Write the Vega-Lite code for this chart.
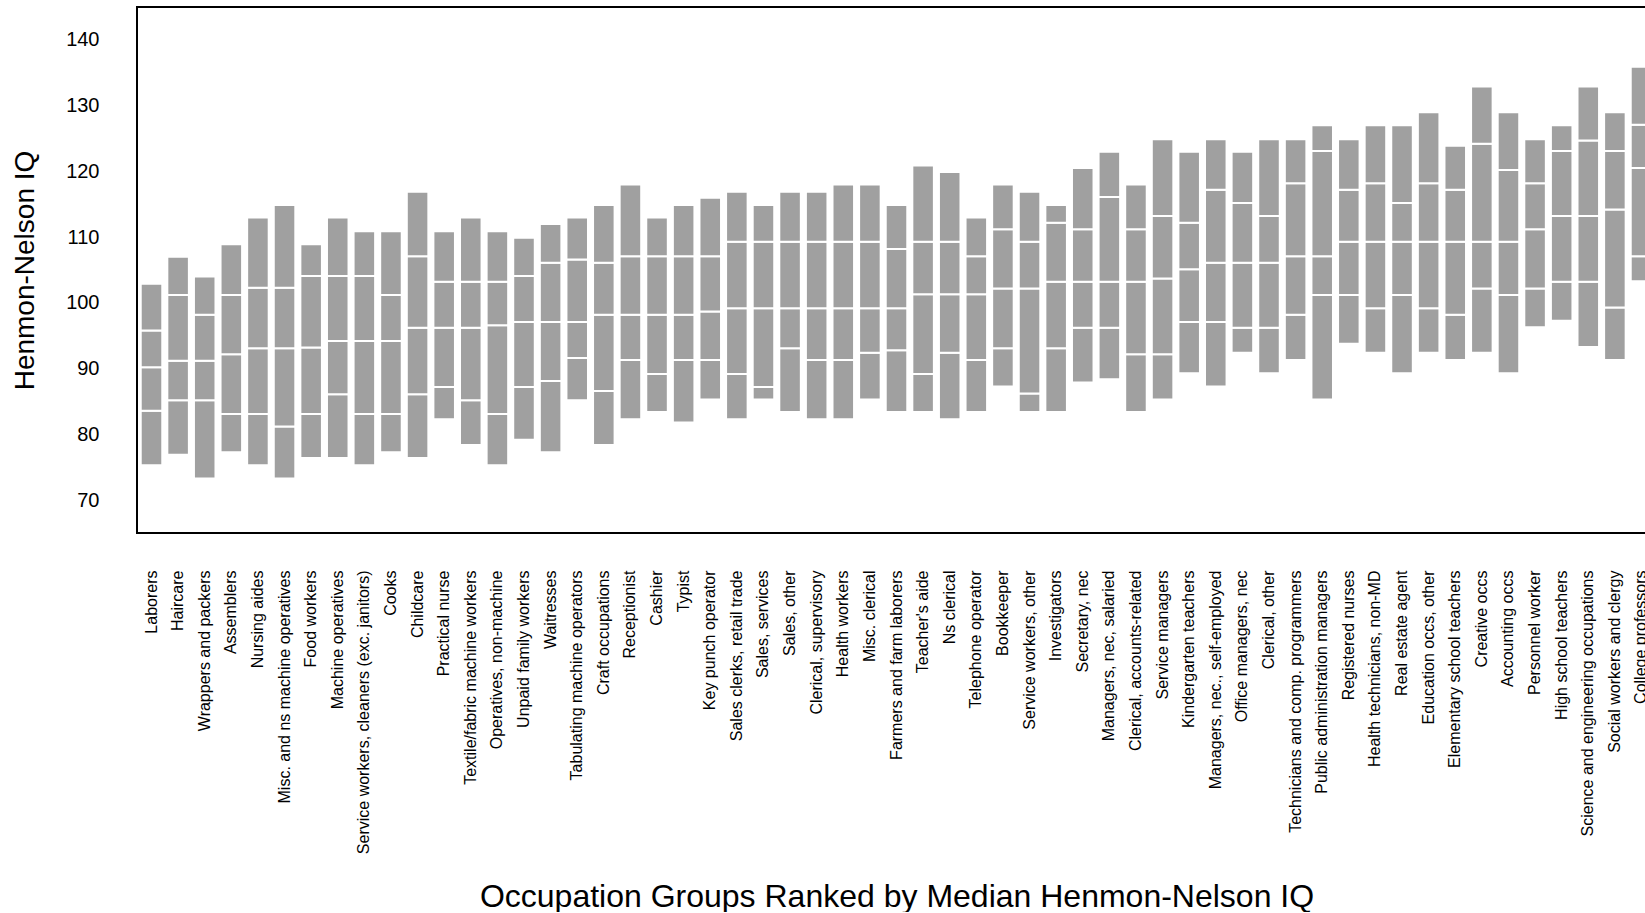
{
  "$schema": "https://vega.github.io/schema/vega-lite/v6.json",
  "usermeta": {"embedOptions": {"actions": false}},
  "width": 1519,
  "height": 526,
  "padding": {"left": 11, "top": 7, "right": 0, "bottom": 0},
  "background": "white",
  "config": {
    "font": "Liberation Sans",
    "view": {"stroke": "black", "strokeWidth": 2},
    "axis": {"labelColor": "black", "titleColor": "black", "titleFontWeight": "normal", "grid": false, "ticks": false, "domain": false}
  },
  "data": {
    "values": [
      {"occ": "Laborers", "p10": 75.3, "p25": 83.6, "p50": 90.2, "p75": 95.8, "p90": 102.9},
      {"occ": "Haircare", "p10": 76.9, "p25": 85.2, "p50": 91.2, "p75": 101.2, "p90": 107.0},
      {"occ": "Wrappers and packers", "p10": 73.3, "p25": 85.2, "p50": 91.2, "p75": 98.2, "p90": 104.0},
      {"occ": "Assemblers", "p10": 77.3, "p25": 83.1, "p50": 92.2, "p75": 101.2, "p90": 108.9},
      {"occ": "Nursing aides", "p10": 75.3, "p25": 83.1, "p50": 93.1, "p75": 102.3, "p90": 113.0},
      {"occ": "Misc. and ns machine operatives", "p10": 73.3, "p25": 81.2, "p50": 93.1, "p75": 102.3, "p90": 114.9},
      {"occ": "Food workers", "p10": 76.4, "p25": 83.1, "p50": 93.2, "p75": 104.1, "p90": 108.9},
      {"occ": "Machine operatives", "p10": 76.4, "p25": 86.1, "p50": 94.2, "p75": 104.1, "p90": 113.0},
      {"occ": "Service workers, cleaners (exc. janitors)", "p10": 75.3, "p25": 83.1, "p50": 94.2, "p75": 104.1, "p90": 110.9},
      {"occ": "Cooks", "p10": 77.3, "p25": 83.1, "p50": 94.2, "p75": 101.2, "p90": 110.9},
      {"occ": "Childcare", "p10": 76.4, "p25": 86.1, "p50": 96.2, "p75": 107.1, "p90": 116.9},
      {"occ": "Practical nurse", "p10": 82.3, "p25": 87.2, "p50": 96.2, "p75": 103.2, "p90": 110.9},
      {"occ": "Textile/fabric machine workers", "p10": 78.4, "p25": 85.2, "p50": 96.2, "p75": 103.2, "p90": 113.0},
      {"occ": "Operatives, non-machine", "p10": 75.3, "p25": 83.1, "p50": 96.6, "p75": 103.2, "p90": 110.9},
      {"occ": "Unpaid family workers", "p10": 79.2, "p25": 87.2, "p50": 97.1, "p75": 104.1, "p90": 109.9},
      {"occ": "Waitresses", "p10": 77.3, "p25": 88.1, "p50": 97.1, "p75": 106.1, "p90": 112.0},
      {"occ": "Tabulating machine operators", "p10": 85.2, "p25": 91.6, "p50": 97.1, "p75": 106.6, "p90": 113.0},
      {"occ": "Craft occupations", "p10": 78.4, "p25": 86.6, "p50": 98.2, "p75": 106.1, "p90": 114.9},
      {"occ": "Receptionist", "p10": 82.3, "p25": 91.3, "p50": 98.2, "p75": 107.1, "p90": 118.0},
      {"occ": "Cashier", "p10": 83.4, "p25": 89.2, "p50": 98.2, "p75": 107.1, "p90": 113.0},
      {"occ": "Typist", "p10": 81.8, "p25": 91.3, "p50": 98.2, "p75": 107.1, "p90": 114.9},
      {"occ": "Key punch operator", "p10": 85.3, "p25": 91.3, "p50": 98.7, "p75": 107.1, "p90": 116.0},
      {"occ": "Sales clerks, retail trade", "p10": 82.3, "p25": 89.2, "p50": 99.2, "p75": 109.3, "p90": 116.9},
      {"occ": "Sales, services", "p10": 85.3, "p25": 87.2, "p50": 99.2, "p75": 109.3, "p90": 114.9},
      {"occ": "Sales, other", "p10": 83.4, "p25": 93.1, "p50": 99.2, "p75": 109.3, "p90": 116.9},
      {"occ": "Clerical, supervisory", "p10": 82.3, "p25": 91.3, "p50": 99.2, "p75": 109.3, "p90": 116.9},
      {"occ": "Health workers", "p10": 82.3, "p25": 91.3, "p50": 99.2, "p75": 109.3, "p90": 118.0},
      {"occ": "Misc. clerical", "p10": 85.3, "p25": 92.4, "p50": 99.2, "p75": 109.3, "p90": 118.0},
      {"occ": "Farmers and farm laborers", "p10": 83.4, "p25": 92.8, "p50": 99.2, "p75": 108.2, "p90": 114.9},
      {"occ": "Teacher's aide", "p10": 83.4, "p25": 89.2, "p50": 101.3, "p75": 109.3, "p90": 120.9},
      {"occ": "Ns clerical", "p10": 82.3, "p25": 92.4, "p50": 101.3, "p75": 109.3, "p90": 119.9},
      {"occ": "Telephone operator", "p10": 83.4, "p25": 91.3, "p50": 101.3, "p75": 107.1, "p90": 113.0},
      {"occ": "Bookkeeper", "p10": 87.3, "p25": 93.1, "p50": 102.2, "p75": 111.2, "p90": 118.0},
      {"occ": "Service workers, other", "p10": 83.4, "p25": 86.2, "p50": 102.2, "p75": 109.3, "p90": 116.9},
      {"occ": "Investigators", "p10": 83.4, "p25": 93.1, "p50": 103.2, "p75": 112.2, "p90": 114.9},
      {"occ": "Secretary, nec", "p10": 87.9, "p25": 96.2, "p50": 103.2, "p75": 111.2, "p90": 120.5},
      {"occ": "Managers, nec, salaried", "p10": 88.4, "p25": 96.2, "p50": 103.2, "p75": 116.1, "p90": 123.0},
      {"occ": "Clerical, accounts-related", "p10": 83.4, "p25": 92.2, "p50": 103.2, "p75": 111.2, "p90": 118.0},
      {"occ": "Service managers", "p10": 85.3, "p25": 92.2, "p50": 103.7, "p75": 113.2, "p90": 124.9},
      {"occ": "Kindergarten teachers", "p10": 89.3, "p25": 97.1, "p50": 105.1, "p75": 112.2, "p90": 123.0},
      {"occ": "Managers, nec., self-employed", "p10": 87.3, "p25": 97.1, "p50": 106.1, "p75": 117.2, "p90": 124.9},
      {"occ": "Office managers, nec", "p10": 92.4, "p25": 96.2, "p50": 106.1, "p75": 115.2, "p90": 123.0},
      {"occ": "Clerical, other", "p10": 89.3, "p25": 96.2, "p50": 106.1, "p75": 113.2, "p90": 124.9},
      {"occ": "Technicians and comp. programmers", "p10": 91.3, "p25": 98.2, "p50": 107.1, "p75": 118.2, "p90": 124.9},
      {"occ": "Public administration managers", "p10": 85.3, "p25": 101.2, "p50": 107.1, "p75": 123.1, "p90": 127.0},
      {"occ": "Registered nurses", "p10": 93.8, "p25": 101.2, "p50": 109.3, "p75": 117.2, "p90": 124.9},
      {"occ": "Health technicians, non-MD", "p10": 92.4, "p25": 99.2, "p50": 109.3, "p75": 118.2, "p90": 127.0},
      {"occ": "Real estate agent", "p10": 89.3, "p25": 101.2, "p50": 109.3, "p75": 115.2, "p90": 127.0},
      {"occ": "Education occs, other", "p10": 92.4, "p25": 99.2, "p50": 109.3, "p75": 118.2, "p90": 129.0},
      {"occ": "Elementary school teachers", "p10": 91.3, "p25": 98.2, "p50": 109.3, "p75": 117.2, "p90": 123.9},
      {"occ": "Creative occs", "p10": 92.4, "p25": 102.2, "p50": 109.3, "p75": 124.2, "p90": 132.9},
      {"occ": "Accounting occs", "p10": 89.3, "p25": 101.2, "p50": 109.3, "p75": 120.2, "p90": 129.0},
      {"occ": "Personnel worker", "p10": 96.3, "p25": 102.2, "p50": 111.2, "p75": 118.2, "p90": 124.9},
      {"occ": "High school teachers", "p10": 97.3, "p25": 103.2, "p50": 113.2, "p75": 123.1, "p90": 127.0},
      {"occ": "Science and engineering occupations", "p10": 93.3, "p25": 103.2, "p50": 113.2, "p75": 124.7, "p90": 132.9},
      {"occ": "Social workers and clergy", "p10": 91.3, "p25": 99.3, "p50": 114.2, "p75": 123.1, "p90": 129.0},
      {"occ": "College professors", "p10": 103.3, "p25": 107.1, "p50": 120.5, "p75": 127.1, "p90": 135.9}
    ]
  },
  "encoding": {
    "x": {
      "field": "occ",
      "type": "nominal",
      "sort": null,
      "scale": {"paddingInner": 0.19, "paddingOuter": 0.14},
      "axis": {
        "title": "Occupation Groups Ranked by Median Henmon-Nelson IQ",
        "labelAngle": -90,
        "labelFontSize": 16,
        "labelPadding": 37,
        "labelLimit": 400,
        "titleFontSize": 32,
        "titleBaseline": "alphabetic",
        "titleY": 373
      }
    }
  },
  "layer": [
    {
      "mark": {"type": "bar", "color": "#A0A0A0", "stroke": "white", "strokeWidth": 2},
      "encoding": {
        "y": {
          "field": "p10",
          "type": "quantitative",
          "scale": {"domain": [65, 145], "nice": false, "zero": false},
          "axis": {"title": "Henmon-Nelson IQ", "values": [70, 80, 90, 100, 110, 120, 130, 140], "labelFontSize": 20, "labelPadding": 38, "titleFontSize": 28, "titlePadding": 26}
        },
        "y2": {"field": "p25"}
      }
    },
    {
      "mark": {"type": "bar", "color": "#A0A0A0", "stroke": "white", "strokeWidth": 2},
      "encoding": {
        "y": {"field": "p25", "type": "quantitative", "axis": {"title": "Henmon-Nelson IQ", "values": [70, 80, 90, 100, 110, 120, 130, 140], "labelFontSize": 20, "labelPadding": 38, "titleFontSize": 28, "titlePadding": 26}},
        "y2": {"field": "p50"}
      }
    },
    {
      "mark": {"type": "bar", "color": "#A0A0A0", "stroke": "white", "strokeWidth": 2},
      "encoding": {
        "y": {"field": "p50", "type": "quantitative", "axis": {"title": "Henmon-Nelson IQ", "values": [70, 80, 90, 100, 110, 120, 130, 140], "labelFontSize": 20, "labelPadding": 38, "titleFontSize": 28, "titlePadding": 26}},
        "y2": {"field": "p75"}
      }
    },
    {
      "mark": {"type": "bar", "color": "#A0A0A0", "stroke": "white", "strokeWidth": 2},
      "encoding": {
        "y": {"field": "p75", "type": "quantitative", "axis": {"title": "Henmon-Nelson IQ", "values": [70, 80, 90, 100, 110, 120, 130, 140], "labelFontSize": 20, "labelPadding": 38, "titleFontSize": 28, "titlePadding": 26}},
        "y2": {"field": "p90"}
      }
    }
  ]
}
